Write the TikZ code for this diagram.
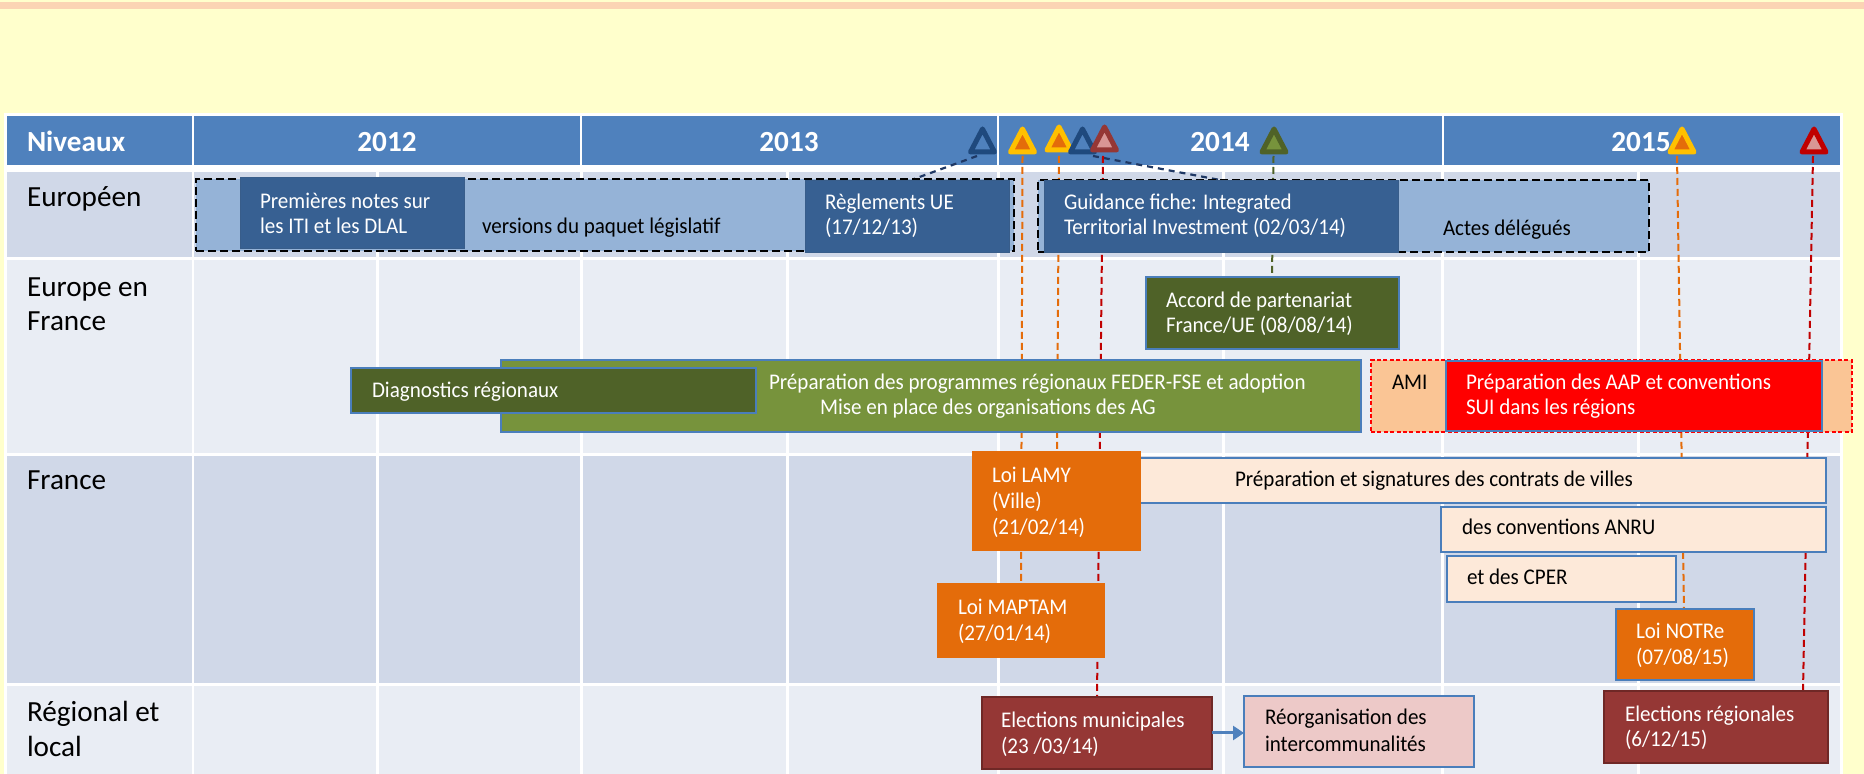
\documentclass[tikz,border=0pt]{standalone}
\usepackage{fontspec}
\setmainfont{Carlito}
\newfontfamily\bxfont[FakeStretch=0.94]{Carlito}
\usetikzlibrary{fit,arrows.meta}
\pgfdeclarelayer{bg}\pgfdeclarelayer{lines}\pgfdeclarelayer{top}
\pgfsetlayers{bg,lines,main,top}
\definecolor{bgy}{HTML}{FFFFCC}
\definecolor{peach}{HTML}{FBD4B4}
\definecolor{hdr}{HTML}{4F81BD}
\definecolor{rowd}{HTML}{D0D8E8}
\definecolor{rowl}{HTML}{E9EDF4}
\definecolor{lblue}{HTML}{95B3D7}
\definecolor{dblue}{HTML}{376092}
\definecolor{dbluebd}{HTML}{385D8A}
\definecolor{navy}{HTML}{1F3864}
\definecolor{navytri}{HTML}{1F497D}
\definecolor{dgreen}{HTML}{4F6228}
\definecolor{mgreen}{HTML}{77933C}
\definecolor{orng}{HTML}{E46C0A}
\definecolor{yel}{HTML}{FFC000}
\definecolor{pale}{HTML}{FDE9D9}
\definecolor{amif}{HTML}{FAC595}
\definecolor{brick}{HTML}{953735}
\definecolor{brickbd}{HTML}{6F2826}
\definecolor{pinkf}{HTML}{EDC9C8}
\definecolor{trired}{HTML}{C00000}
\definecolor{trifill}{HTML}{D99694}
\definecolor{bluebd}{HTML}{4A7EBB}
\definecolor{pureRed}{HTML}{FF0000}
\tikzset{
  bx/.style={rectangle, inner sep=0pt, outer sep=0pt},
  dashbox/.style={bx, fill=lblue, draw=black, line width=1pt, dash pattern=on 4pt off 2pt},
  darkbox/.style={bx, fill=dblue, draw=dbluebd, line width=0.5pt},
  dgbox/.style={bx, fill=dgreen, draw=bluebd, line width=0.9pt},
  mgbox/.style={bx, fill=mgreen, draw=bluebd, line width=0.9pt},
  amibox/.style={bx, fill=amif, draw=pureRed, line width=0.75pt, dash pattern=on 2pt off 1.2pt},
  redbox/.style={bx, fill=pureRed, draw=bluebd, line width=0.9pt},
  orbox/.style={bx, fill=orng, draw=orng, line width=0.5pt},
  orbbox/.style={bx, fill=orng, draw=bluebd, line width=0.9pt},
  palebox/.style={bx, fill=pale, draw=bluebd, line width=0.9pt},
  brickbox/.style={bx, fill=brick, draw=brickbd, line width=0.75pt},
  pinkbox/.style={bx, fill=pinkf, draw=bluebd, line width=0.9pt},
  txt/.style={inner sep=0pt, outer sep=0pt, anchor=base west, font=\bxfont\fontsize{11.2pt}{13pt}\selectfont},
  wt/.style={txt, text=white},
  bt/.style={txt, text=black},
  lbl/.style={inner sep=0pt, outer sep=0pt, anchor=base west, text=black, font=\fontsize{14.6pt}{17pt}\selectfont},
  hdrtxt/.style={inner sep=0pt, outer sep=0pt, anchor=base, text=white, font=\bfseries\fontsize{14.6pt}{17pt}\selectfont},
  odash/.style={draw=orng, line width=1pt, dash pattern=on 3.5pt off 2pt},
  rdash/.style={draw=trired, line width=1pt, dash pattern=on 3.5pt off 2pt},
  gdash/.style={draw=dgreen, line width=1pt, dash pattern=on 3.5pt off 2pt},
  ndash/.style={draw=navy, line width=1.1pt, dash pattern=on 3pt off 2.5pt},
  flow/.style={draw=hdr, line width=1.5pt, -{Triangle[length=5.5pt,width=7pt]}},
  warn/.pic={\path[pic actions] (-12,0) -- (12,0) -- (0,-23) -- cycle;},
  tri/.style={line width=2.5pt, line join=round}
}
\begin{document}
\begin{tikzpicture}[x=0.5pt,y=-0.5pt]
\useasboundingbox (0,0) rectangle (1864,774);
\begin{pgfonlayer}{bg}
  \fill[bgy] (0,0) rectangle (1864,774);
  \fill[peach] (0,2) rectangle (1864,9);
  \fill[white] (4,113) rectangle (1843,774);
  \foreach \a/\b in {7/192,194/580,582/997,999/1442,1444/1840}
    \fill[hdr] (\a,116) rectangle (\b,165);
  \foreach \ya/\yb/\c in {172/257/rowd,260/453/rowl,456/683/rowd,686/774/rowl}
    \foreach \a/\b in {7/192,194/376,379/580,583/786,789/997,1000/1222,1225/1441,1444/1637,1640/1840}
      \fill[\c] (\a,\ya) rectangle (\b,\yb);
\end{pgfonlayer}

% header and row labels
\node[hdrtxt, anchor=base west] (hniv) at (27,152) {Niveaux};
\node[hdrtxt] (h12) at (387,152) {2012};
\node[hdrtxt] (h13) at (789,152) {2013};
\node[hdrtxt] (h14) at (1220,152) {2014};
\node[hdrtxt] (h15) at (1641,152) {2015};
\node[lbl] (leu) at (27,207) {Européen};
\node[lbl] (lef1) at (27,297) {Europe en};
\node[lbl] (lef2) at (27,331) {France};
\node[lbl] (lfr) at (27,490) {France};
\node[lbl] (lrl1) at (27,722) {Régional et};
\node[lbl] (lrl2) at (27,756) {local};

% Europeen row
\node[dashbox, fit={(196,179) (1014,251)}] (euL) {};
\node[darkbox, fit={(240,178) (464,249)}] (premieres) {};
\node[darkbox, fit={(805,181) (1009,253)}] (reglements) {};
\node[dashbox, fit={(1038,180) (1649,252)}] (euR) {};
\node[darkbox, fit={(1044,181) (1398,253)}] (guidance) {};
\node[wt] (t1a) at (260,209) {Premières notes sur};
\node[wt] (t1b) at (260,234) {les ITI et les DLAL};
\node[bt] (t2) at (482,234) {versions du paquet législatif};
\node[wt] (t3a) at (825,210) {Règlements UE};
\node[wt] (t3b) at (825,235) {(17/12/13)};
\node[wt] (t4a) at (1064,210) {Guidance fiche: Integrated};
\node[wt] (t4b) at (1064,235) {Territorial Investment (02/03/14)};
\node[bt] (t5) at (1443,236) {Actes délégués};

% Europe en France row
\node[dgbox, fit={(1146,277) (1399,349)}] (accord) {};
\node[mgbox, fit={(501,360) (1361,432)}] (prepprog) {};
\node[dgbox, fit={(351,368) (756,413)}] (diag) {};
\node[amibox, fit={(1371,360) (1852,432)}] (ami) {};
\node[redbox, fit={(1446,361) (1822,431)}] (aap) {};
\node[wt] (t6a) at (1166,308) {Accord de partenariat};
\node[wt] (t6b) at (1166,333) {France/UE (08/08/14)};
\node[wt] (t7) at (372,398) {Diagnostics régionaux};
\node[wt] (t8a) at (769,390) {Préparation des programmes régionaux FEDER-FSE et adoption};
\node[wt] (t8b) at (820,415) {Mise en place des organisations des AG};
\node[bt] (t9) at (1392,390) {AMI};
\node[wt] (t10a) at (1466,390) {Préparation des AAP et conventions};
\node[wt] (t10b) at (1466,415) {SUI dans les régions};

% France row
\node[palebox, fit={(1140,458) (1826,503)}] (prepsign) {};
\node[orbox, fit={(972,452) (1140,551)}] (lamy) {};
\node[palebox, fit={(1441,507) (1826,552)}] (anru) {};
\node[palebox, fit={(1447,556) (1676,602)}] (cper) {};
\node[orbox, fit={(937,584) (1104,658)}] (maptam) {};
\node[orbbox, fit={(1616,609) (1754,680)}] (notre) {};
\node[wt] (t11a) at (992,483) {Loi LAMY};
\node[wt] (t11b) at (992,509) {(Ville)};
\node[wt] (t11c) at (992,535) {(21/02/14)};
\node[bt] (t12) at (1235,487) {Préparation et signatures des contrats de villes};
\node[bt] (t13) at (1462,535) {des conventions ANRU};
\node[bt] (t14) at (1467,585) {et des CPER};
\node[wt] (t15a) at (958,615) {Loi MAPTAM};
\node[wt] (t15b) at (958,641) {(27/01/14)};
\node[wt] (t16a) at (1636,639) {Loi NOTRe};
\node[wt] (t16b) at (1636,665) {(07/08/15)};

% Regional row
\node[brickbox, fit={(982,697) (1212,769)}] (elecmun) {};
\node[pinkbox, fit={(1244,696) (1474,767)}] (reorg) {};
\node[brickbox, fit={(1604,691) (1828,763)}] (elecreg) {};
\node[wt] (t17a) at (1001,727) {Elections municipales};
\node[wt] (t17b) at (1001,754) {(23 /03/14)};
\node[bt] (t18a) at (1265,725) {Réorganisation des};
\node[bt] (t18b) at (1265,751) {intercommunalités};
\node[wt] (t19a) at (1625,721) {Elections régionales};
\node[wt] (t19b) at (1625,747) {(6/12/15)};
\draw[flow] (elecmun.east) -- (reorg.west |- elecmun.east);

% triangle feet
\coordinate (fb1) at (977,156);
\coordinate (fo1) at (1022.5,156);
\coordinate (fo2) at (1059,156);
\coordinate (fb2) at (1093,156);
\coordinate (fr1) at (1103,156);
\coordinate (fg) at (1273.5,156);
\coordinate (fo3) at (1677,156);
\coordinate (fr2) at (1813,156);

\begin{pgfonlayer}{lines}
  \draw[ndash] (fb1) -- (914,0 |- euL.north);
  \draw[ndash] (fb2) -- (1220,0 |- euR.north);
  \draw[odash] (fo1) -- (1021,0 |- maptam.north);
  \draw[odash] (fo2) -- (1057,0 |- lamy.north);
  \draw[rdash] (fr1) -- (1097,0 |- elecmun.north);
  \draw[gdash] (fg) -- (1272,0 |- accord.north);
  \draw[odash] (fo3) -- (1684,0 |- notre.north);
  \draw[rdash] (fr2) -- (1803,0 |- elecreg.north);
\end{pgfonlayer}

\begin{pgfonlayer}{top}
  \pic[tri, draw=navytri, fill=hdr] at (982.5,152) {warn};
  \pic[tri, draw=yel, fill=orng] at (1022.5,152) {warn};
  \pic[tri, draw=yel, fill=orng] at (1059,150) {warn};
  \pic[tri, draw=navytri, fill=hdr] at (1082.5,152) {warn};
  \pic[tri, draw=brick, fill=trifill] at (1104.5,150) {warn};
  \pic[tri, draw=dgreen, fill=mgreen] at (1274,152) {warn};
  \pic[tri, draw=yel, fill=orng] at (1682,152) {warn};
  \pic[tri, draw=trired, fill=trifill] at (1814,152) {warn};
\end{pgfonlayer}
\end{tikzpicture}
\end{document}
